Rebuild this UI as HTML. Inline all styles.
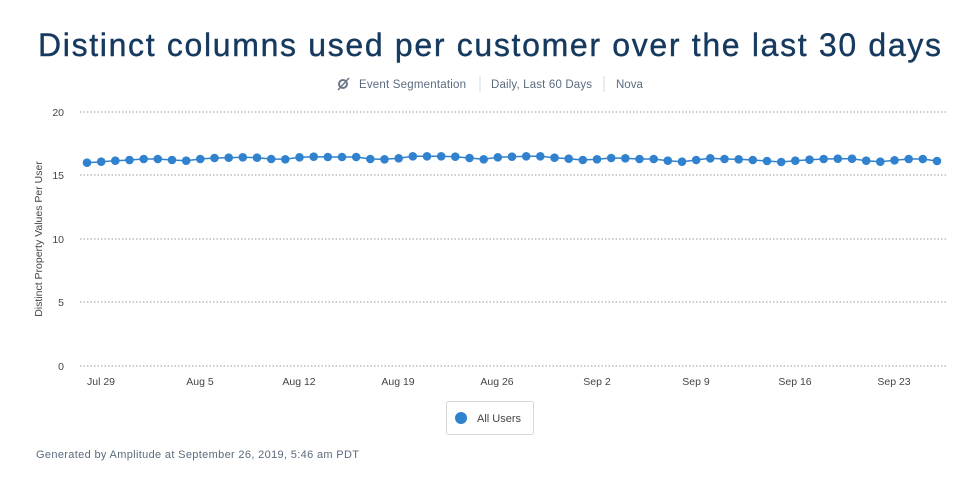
<!DOCTYPE html>
<html><head><style>
body{margin:0;background:#fff;width:980px;height:497px;overflow:hidden;font-family:"Liberation Sans",sans-serif;}
</style></head><body>
<svg width="980" height="497" xmlns="http://www.w3.org/2000/svg" font-family="Liberation Sans, sans-serif">
<text x="38" y="56" font-size="32" fill="#163a5f" stroke="#163a5f" stroke-width="0.4" textLength="903" lengthAdjust="spacing">Distinct columns used per customer over the last 30 days</text>
<g font-size="11.5" fill="#5b6b7d">
<circle cx="343" cy="84" r="4" fill="none" stroke="#6b7785" stroke-width="2"/><line x1="338" y1="90" x2="349" y2="78" stroke="#6b7785" stroke-width="1.5"/>
<text x="359" y="88" textLength="107">Event Segmentation</text>
<line x1="480" y1="76" x2="480" y2="92" stroke="#d5d9de"/>
<text x="491" y="88" textLength="101">Daily, Last 60 Days</text>
<line x1="604" y1="76" x2="604" y2="92" stroke="#d5d9de"/>
<text x="616" y="88">Nova</text>
</g>
<g stroke="#9a9a9a" stroke-dasharray="1.5,2" stroke-width="1">
<line x1="80" y1="112" x2="946" y2="112"/><line x1="80" y1="175" x2="946" y2="175"/><line x1="80" y1="239" x2="946" y2="239"/><line x1="80" y1="302" x2="946" y2="302"/><line x1="80" y1="366" x2="946" y2="366"/>
</g>
<g font-size="10.5" fill="#444" text-anchor="end">
<text x="64" y="116">20</text><text x="64" y="179">15</text><text x="64" y="243">10</text><text x="64" y="306">5</text><text x="64" y="370">0</text>
</g>
<text transform="translate(42,239) rotate(-90)" text-anchor="middle" font-size="10.5" fill="#444">Distinct Property Values Per User</text>
<g font-size="10.5" fill="#444" text-anchor="middle">
<text x="101" y="385">Jul 29</text><text x="200" y="385">Aug 5</text><text x="299" y="385">Aug 12</text><text x="398" y="385">Aug 19</text><text x="497" y="385">Aug 26</text><text x="597" y="385">Sep 2</text><text x="696" y="385">Sep 9</text><text x="795" y="385">Sep 16</text><text x="894" y="385">Sep 23</text>
</g>
<polyline fill="none" stroke="#3182ce" stroke-width="1.5" points="87.0,162.7 101.2,161.7 115.3,160.7 129.5,160.0 143.7,159.0 157.8,159.0 172.0,160.0 186.2,160.7 200.3,159.0 214.5,158.0 228.7,157.7 242.8,157.3 257.0,157.7 271.2,159.0 285.3,159.3 299.5,157.3 313.7,156.7 327.8,157.0 342.0,157.0 356.2,157.0 370.3,159.0 384.5,159.3 398.7,158.3 412.8,156.3 427.0,156.3 441.2,156.3 455.3,156.7 469.5,158.0 483.7,159.3 497.8,157.3 512.0,156.7 526.2,156.3 540.3,156.3 554.5,157.7 568.7,158.7 582.8,160.0 597.0,159.3 611.2,158.0 625.3,158.3 639.5,159.0 653.7,159.0 667.8,160.7 682.0,161.7 696.2,160.0 710.3,158.3 724.5,159.0 738.7,159.3 752.8,160.0 767.0,161.0 781.2,162.0 795.3,160.7 809.5,159.7 823.7,159.0 837.8,158.7 852.0,158.7 866.2,160.7 880.3,161.7 894.5,160.3 908.7,159.0 922.8,159.0 937.0,161.0"/>
<g fill="#3182ce">
<circle cx="87.0" cy="162.7" r="4.3"/><circle cx="101.2" cy="161.7" r="4.3"/><circle cx="115.3" cy="160.7" r="4.3"/><circle cx="129.5" cy="160.0" r="4.3"/><circle cx="143.7" cy="159.0" r="4.3"/><circle cx="157.8" cy="159.0" r="4.3"/><circle cx="172.0" cy="160.0" r="4.3"/><circle cx="186.2" cy="160.7" r="4.3"/><circle cx="200.3" cy="159.0" r="4.3"/><circle cx="214.5" cy="158.0" r="4.3"/><circle cx="228.7" cy="157.7" r="4.3"/><circle cx="242.8" cy="157.3" r="4.3"/><circle cx="257.0" cy="157.7" r="4.3"/><circle cx="271.2" cy="159.0" r="4.3"/><circle cx="285.3" cy="159.3" r="4.3"/><circle cx="299.5" cy="157.3" r="4.3"/><circle cx="313.7" cy="156.7" r="4.3"/><circle cx="327.8" cy="157.0" r="4.3"/><circle cx="342.0" cy="157.0" r="4.3"/><circle cx="356.2" cy="157.0" r="4.3"/><circle cx="370.3" cy="159.0" r="4.3"/><circle cx="384.5" cy="159.3" r="4.3"/><circle cx="398.7" cy="158.3" r="4.3"/><circle cx="412.8" cy="156.3" r="4.3"/><circle cx="427.0" cy="156.3" r="4.3"/><circle cx="441.2" cy="156.3" r="4.3"/><circle cx="455.3" cy="156.7" r="4.3"/><circle cx="469.5" cy="158.0" r="4.3"/><circle cx="483.7" cy="159.3" r="4.3"/><circle cx="497.8" cy="157.3" r="4.3"/><circle cx="512.0" cy="156.7" r="4.3"/><circle cx="526.2" cy="156.3" r="4.3"/><circle cx="540.3" cy="156.3" r="4.3"/><circle cx="554.5" cy="157.7" r="4.3"/><circle cx="568.7" cy="158.7" r="4.3"/><circle cx="582.8" cy="160.0" r="4.3"/><circle cx="597.0" cy="159.3" r="4.3"/><circle cx="611.2" cy="158.0" r="4.3"/><circle cx="625.3" cy="158.3" r="4.3"/><circle cx="639.5" cy="159.0" r="4.3"/><circle cx="653.7" cy="159.0" r="4.3"/><circle cx="667.8" cy="160.7" r="4.3"/><circle cx="682.0" cy="161.7" r="4.3"/><circle cx="696.2" cy="160.0" r="4.3"/><circle cx="710.3" cy="158.3" r="4.3"/><circle cx="724.5" cy="159.0" r="4.3"/><circle cx="738.7" cy="159.3" r="4.3"/><circle cx="752.8" cy="160.0" r="4.3"/><circle cx="767.0" cy="161.0" r="4.3"/><circle cx="781.2" cy="162.0" r="4.3"/><circle cx="795.3" cy="160.7" r="4.3"/><circle cx="809.5" cy="159.7" r="4.3"/><circle cx="823.7" cy="159.0" r="4.3"/><circle cx="837.8" cy="158.7" r="4.3"/><circle cx="852.0" cy="158.7" r="4.3"/><circle cx="866.2" cy="160.7" r="4.3"/><circle cx="880.3" cy="161.7" r="4.3"/><circle cx="894.5" cy="160.3" r="4.3"/><circle cx="908.7" cy="159.0" r="4.3"/><circle cx="922.8" cy="159.0" r="4.3"/><circle cx="937.0" cy="161.0" r="4.3"/>
</g>
<rect x="446.5" y="401.5" width="87" height="33" rx="2" fill="#fff" stroke="#d5d9de"/>
<circle cx="461" cy="418" r="6" fill="#3182ce"/>
<text x="477" y="422" font-size="11" fill="#444">All Users</text>
<text x="36" y="458" font-size="11" fill="#5b6b7d" textLength="323">Generated by Amplitude at September 26, 2019, 5:46 am PDT</text>
</svg>
</body></html>
